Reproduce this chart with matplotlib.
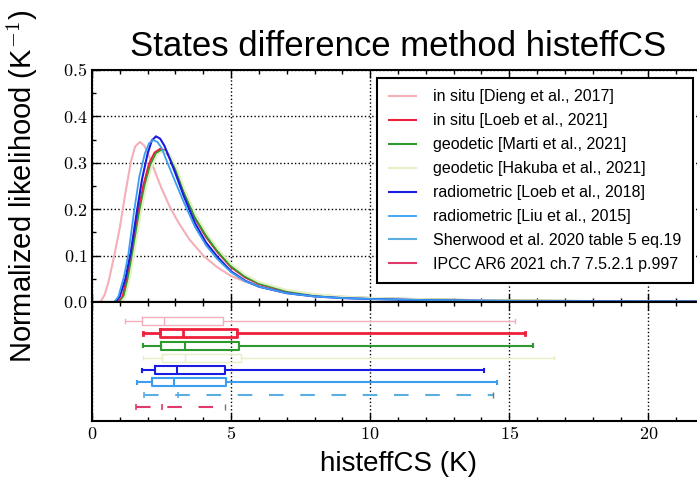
import matplotlib
matplotlib.use("Agg")
import matplotlib.pyplot as plt
from matplotlib.ticker import MultipleLocator, FuncFormatter

plt.rcParams['font.family'] = ['Liberation Sans', 'DejaVu Sans']
plt.rcParams['mathtext.fontset'] = 'cm'

# ---------------- data ----------------
labels = ["in situ [Dieng et al., 2017]",
          "in situ [Loeb et al., 2021]",
          "geodetic [Marti et al., 2021]",
          "geodetic [Hakuba et al., 2021]",
          "radiometric [Loeb et al., 2018]",
          "radiometric [Liu et al., 2015]",
          "Sherwood et al. 2020 table 5 eq.19",
          "IPCC AR6 2021 ch.7 7.5.2.1 p.997"]
colors = ["#f4afb8", "#f0203c", "#2e9a2e", "#e6f0c4",
          "#1a1ae0", "#3c9ef0", "#5aaee0", "#e03a6a"]

# PDF curves
dieng_x = [0.3, 0.45, 0.6, 0.8, 1.0, 1.2, 1.4, 1.55, 1.72, 1.88, 2.05, 2.25, 2.5, 2.8, 3.1, 3.5, 4.0, 4.5, 5.0, 5.5, 6.0, 7.0, 8.0, 9.0, 10, 12, 15, 18, 22]
dieng_y = [0.0, 0.015, 0.045, 0.1, 0.16, 0.235, 0.303, 0.335, 0.345, 0.337, 0.315, 0.283, 0.245, 0.205, 0.172, 0.135, 0.1, 0.075, 0.056, 0.044, 0.035, 0.023, 0.016, 0.011, 0.0085, 0.0055, 0.003, 0.0019, 0.0011]
loeb21_x = [0.95, 1.1, 1.25, 1.4, 1.65, 1.85, 2.05, 2.25, 2.45, 2.6, 2.75, 3.0, 3.3, 3.7, 4.1, 4.5, 5.0, 5.5, 6.0, 7.0, 8.0, 9.0, 10, 12, 15, 18, 22]
loeb21_y = [0.0, 0.012, 0.05, 0.1, 0.19, 0.252, 0.298, 0.322, 0.33, 0.327, 0.316, 0.285, 0.235, 0.18, 0.14, 0.108, 0.075, 0.053, 0.039, 0.023, 0.015, 0.0105, 0.008, 0.005, 0.0028, 0.0018, 0.0011]
marti_x = [1.0, 1.15, 1.3, 1.45, 1.7, 1.9, 2.1, 2.3, 2.5, 2.65, 2.8, 3.0, 3.3, 3.7, 4.1, 4.5, 5.0, 5.5, 6.0, 7.0, 8.0, 9.0, 10, 12, 15, 18, 22]
marti_y = [0.0, 0.012, 0.05, 0.1, 0.19, 0.25, 0.295, 0.32, 0.3275, 0.325, 0.315, 0.285, 0.235, 0.182, 0.143, 0.11, 0.077, 0.055, 0.04, 0.024, 0.0155, 0.011, 0.0085, 0.0055, 0.003, 0.002, 0.0012]
hakuba_x = [1.05, 1.2, 1.35, 1.5, 1.75, 1.95, 2.15, 2.35, 2.55, 2.7, 2.85, 3.05, 3.35, 3.75, 4.15, 4.55, 5.0, 5.5, 6.0, 7.0, 8.0, 9.0, 10, 12, 15, 18, 22]
hakuba_y = [0.0, 0.012, 0.05, 0.1, 0.19, 0.25, 0.293, 0.318, 0.325, 0.322, 0.312, 0.288, 0.24, 0.186, 0.146, 0.113, 0.082, 0.059, 0.043, 0.026, 0.017, 0.012, 0.009, 0.006, 0.0033, 0.0022, 0.0013]
loeb18_x = [0.85, 1.0, 1.2, 1.4, 1.6, 1.8, 2.0, 2.15, 2.3, 2.45, 2.6, 2.8, 3.0, 3.3, 3.7, 4.1, 4.5, 5.0, 5.5, 6.0, 7.0, 8.0, 9.0, 10, 12, 15, 18, 22]
loeb18_y = [0.0, 0.012, 0.05, 0.11, 0.19, 0.265, 0.32, 0.348, 0.357, 0.352, 0.337, 0.308, 0.277, 0.228, 0.17, 0.128, 0.098, 0.066, 0.046, 0.033, 0.019, 0.012, 0.0085, 0.0065, 0.004, 0.0022, 0.0014, 0.0009]
liu_x = [0.8, 0.95, 1.15, 1.3, 1.5, 1.7, 1.9, 2.05, 2.2, 2.35, 2.5, 2.7, 3.0, 3.3, 3.7, 4.1, 4.5, 5.0, 5.5, 6.0, 7.0, 8.0, 9.0, 10, 12, 15, 18, 22]
liu_y = [0.0, 0.012, 0.055, 0.1, 0.19, 0.27, 0.32, 0.342, 0.349, 0.345, 0.332, 0.302, 0.258, 0.215, 0.162, 0.122, 0.093, 0.064, 0.045, 0.033, 0.019, 0.012, 0.0085, 0.0065, 0.004, 0.0022, 0.0014, 0.0009]

# box statistics for the six datasets
whislo = [1.18, 1.84, 1.84, 1.85, 1.78, 1.60]
q1 = [1.78, 2.44, 2.47, 2.50, 2.28, 2.16]
med = [2.60, 3.28, 3.33, 3.35, 3.06, 2.94]
q3 = [4.70, 5.22, 5.30, 5.35, 4.77, 4.83]
whishi = [15.2, 15.56, 15.84, 16.6, 14.09, 14.56]
box_lw = [1.0, 2.0, 1.5, 1.0, 1.5, 1.5]

# Sherwood / IPCC ranges (low, central, high)
ref_lo = [1.87, 1.58]
ref_mid = [3.10, 2.53]
ref_hi = [14.4, 4.78]

# ---------------- figure ----------------
W, H = 697, 493
fig = plt.figure(figsize=(W / 100, H / 100), dpi=100)
L, R = 92, 704
ax1 = fig.add_axes([L / W, (H - 302) / H, (R - L) / W, (302 - 70) / H])
ax2 = fig.add_axes([L / W, (H - 421) / H, (R - L) / W, (421 - 302) / H], sharex=ax1)

curves = [(dieng_x, dieng_y), (loeb21_x, loeb21_y), (marti_x, marti_y),
          (hakuba_x, hakuba_y), (loeb18_x, loeb18_y), (liu_x, liu_y)]
lws = [1.5, 1.5, 1.5, 1.5, 1.5, 1.3]
for (xx, yy), c, lab, lw in zip(curves, colors[:6], labels[:6], lws):
    ax1.plot(xx, yy, color=c, lw=lw, label=lab, solid_joinstyle='round')
# legend-only entries
ax1.plot([], [], color=colors[6], lw=1.5, label=labels[6])
ax1.plot([], [], color=colors[7], lw=1.5, label=labels[7])

ax1.axhline(0, color='k', lw=1.5)
ax1.set_xlim(0, 22)
ax1.set_ylim(0, 0.5)
ax1.yaxis.set_major_locator(MultipleLocator(0.1))
ax1.yaxis.set_minor_locator(MultipleLocator(0.05))
ax1.xaxis.set_major_locator(MultipleLocator(5))
ax1.xaxis.set_minor_locator(MultipleLocator(1))
ax1.yaxis.set_major_formatter(FuncFormatter(lambda v, p: r'$%.1f$' % v))
ax1.tick_params(axis='x', labelbottom=False)
ax1.grid(True, which='major', color='k', linestyle=':', lw=1.0)

# boxes
stats = []
for i in range(6):
    stats.append(dict(whislo=whislo[i], q1=q1[i], med=med[i], q3=q3[i],
                      whishi=whishi[i], fliers=[], label=labels[i]))
for i in range(6):
    c = colors[i]
    lw = box_lw[i]
    ax2.bxp([stats[i]], positions=[i + 1], vert=False, widths=0.65,
            showfliers=False, capwidths=0.25,
            boxprops=dict(color=c, lw=lw), whiskerprops=dict(color=c, lw=lw),
            capprops=dict(color=c, lw=lw), medianprops=dict(color=c, lw=lw))

for j in range(2):
    pos = 7 + j
    c = colors[6 + j]
    ax2.hlines(pos, ref_lo[j], ref_hi[j], colors=c, linestyles=(0, (7, 8)), lw=1.5)
    ax2.vlines([ref_lo[j], ref_mid[j]], pos - 0.25, pos + 0.25, colors=c, lw=1.2)
    ax2.vlines([ref_hi[j]], pos - 0.25, pos + 0.25, colors='0.45', lw=1.0)

ax2.set_ylim(9.14, -0.546)
ax2.set_yticks([])
ax2.grid(True, which='major', axis='x', color='k', linestyle=':', lw=1.0)
ax2.xaxis.set_major_formatter(FuncFormatter(lambda v, p: r'$%d$' % v))

for ax in (ax1, ax2):
    ax.tick_params(which='both', direction='in', top=True, right=True, labelsize=13)
    ax.tick_params(which='major', length=6, width=1)
    ax.tick_params(which='minor', length=3, width=1)
    for s in ax.spines.values():
        s.set_linewidth(1.5)
ax2.tick_params(axis='y', which='both', left=False, right=False)

ax1.set_title("States difference method histeffCS", fontsize=25, pad=10)
ax1.set_ylabel(r"Normalized likelihood (K$^{-1}$)", fontsize=21)
ax1.yaxis.set_label_coords(-0.085, 0.5)
ax2.set_xlabel("histeffCS (K)", fontsize=20, labelpad=6)

leg = ax1.legend(loc='upper right', bbox_to_anchor=(0.982, 0.966), fontsize=11.5,
                 frameon=True, fancybox=False, edgecolor='k', framealpha=1,
                 handlelength=1.7, handletextpad=1.1, labelspacing=0.56,
                 borderpad=0.72, borderaxespad=0)
leg.get_frame().set_linewidth(1.5)

fig.savefig("out.png", dpi=100, facecolor='white')
